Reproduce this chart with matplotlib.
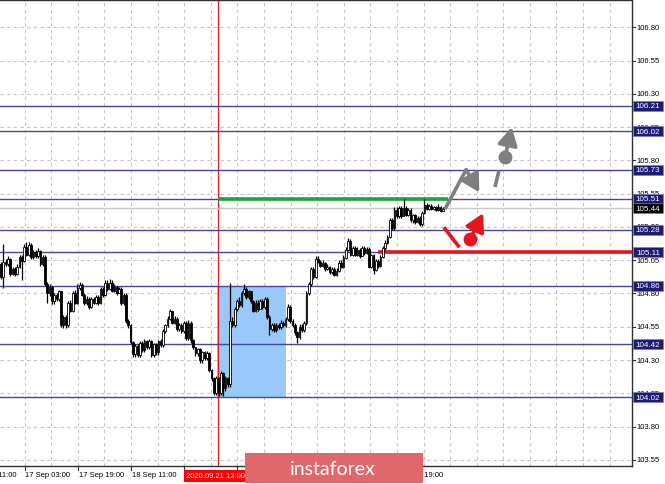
import numpy as np
import matplotlib
matplotlib.use('Agg')
import matplotlib.pyplot as plt
from matplotlib.patches import Rectangle

# --- fonts ---
FONT = ['Liberation Sans', 'DejaVu Sans']
LOGO_FONT = ['Lato', 'DejaVu Sans']

# --- data (USDJPY-like candles, open = previous close) ---
first_open = 105.025
closes = [
    104.927, 105.040, 105.025, 105.062, 104.950, 104.987, 104.950, 105.002, 105.077, 105.047,
    105.152, 105.092, 105.167, 105.077, 105.115, 105.085, 105.122, 105.025, 105.077, 104.875,
    104.800, 104.852, 104.740, 104.785, 104.755, 104.815, 104.567, 104.627, 104.560, 104.725,
    104.672, 104.807, 104.732, 104.845, 104.867, 104.792, 104.725, 104.762, 104.695, 104.755,
    104.732, 104.777, 104.732, 104.837, 104.785, 104.882, 104.837, 104.882, 104.822, 104.852,
    104.807, 104.837, 104.725, 104.792, 104.590, 104.560, 104.432, 104.342, 104.402, 104.335,
    104.425, 104.372, 104.440, 104.395, 104.440, 104.335, 104.417, 104.357, 104.440, 104.410,
    104.515, 104.560, 104.612, 104.665, 104.582, 104.612, 104.537, 104.567, 104.515, 104.575,
    104.462, 104.582, 104.447, 104.395, 104.350, 104.380, 104.297, 104.357, 104.312, 104.350,
    104.222, 104.162, 104.050, 104.162, 104.050, 104.200,
    104.087, 104.162, 104.117, 104.597, 104.567, 104.687, 104.747, 104.717, 104.800, 104.837,
    104.777, 104.815, 104.740, 104.672, 104.732, 104.687, 104.740, 104.695, 104.755, 104.627,
    104.530, 104.567, 104.522, 104.567, 104.545, 104.582, 104.560, 104.605, 104.695, 104.597,
    104.567, 104.507, 104.470, 104.552, 104.522, 104.575, 104.800, 104.875, 104.987, 104.927,
    105.062, 105.040, 105.010, 105.032, 104.987, 105.002, 104.965, 104.987, 104.942, 104.972,
    105.032, 105.002, 105.070, 105.130, 105.197, 105.092, 105.145, 105.092, 105.130, 105.085,
    105.145, 105.107, 105.137, 105.002, 105.092, 104.980, 105.047, 105.010, 105.077, 105.145,
    105.182, 105.227, 105.355, 105.295, 105.430, 105.385, 105.445, 105.385, 105.445, 105.392,
    105.430, 105.355, 105.392, 105.340, 105.370, 105.325, 105.407, 105.467, 105.437, 105.460,
    105.437, 105.452, 105.430, 105.452, 105.422, 105.437,
]
highs = [
    105.04, 105.175, 105.06, 105.08, 105.07, 105.00, 105.00, 105.02, 105.09, 105.09,
    105.17, 105.19, 105.19, 105.18, 105.13, 105.13, 105.14, 105.13, 105.09, 105.09,
    104.89, 104.87, 104.86, 104.80, 104.80, 104.83, 104.82, 104.64, 104.64, 104.74,
    104.75, 104.82, 104.83, 104.87, 104.89, 104.88, 104.80, 104.78, 104.77, 104.77,
    104.77, 104.79, 104.79, 104.85, 104.85, 104.90, 104.90, 104.91, 104.90, 104.87,
    104.86, 104.85, 104.85, 104.80, 104.80, 104.61, 104.57, 104.44, 104.42, 104.42,
    104.44, 104.44, 104.46, 104.45, 104.46, 104.45, 104.43, 104.43, 104.45, 104.46,
    104.53, 104.57, 104.63, 104.68, 104.67, 104.63, 104.62, 104.58, 104.58, 104.59,
    104.59, 104.60, 104.59, 104.46, 104.40, 104.39, 104.39, 104.37, 104.37, 104.37,
    104.36, 104.23, 104.17, 104.18, 104.17, 104.22,
    104.21, 104.18, 104.17, 104.88, 104.62, 104.70, 104.76, 104.77, 104.82, 104.87,
    104.85, 104.83, 104.82, 104.75, 104.75, 104.75, 104.76, 104.76, 104.77, 104.77,
    104.64, 104.58, 104.58, 104.58, 104.58, 104.60, 104.59, 104.62, 104.72, 104.71,
    104.61, 104.58, 104.52, 104.57, 104.57, 104.59, 104.82, 104.89, 105.00, 105.00,
    105.08, 105.08, 105.05, 105.05, 105.04, 105.02, 105.01, 105.00, 105.00, 104.99,
    105.05, 105.05, 105.09, 105.15, 105.22, 105.21, 105.16, 105.16, 105.15, 105.14,
    105.16, 105.16, 105.15, 105.15, 105.10, 105.10, 105.06, 105.06, 105.09, 105.16,
    105.20, 105.24, 105.37, 105.37, 105.45, 105.45, 105.46, 105.46, 105.51, 105.46,
    105.44, 105.44, 105.40, 105.40, 105.38, 105.38, 105.42, 105.51, 105.48, 105.47,
    105.47, 105.46, 105.46, 105.47, 105.46, 105.45,
]
lows = [
    104.91, 104.84, 105.01, 105.01, 104.93, 104.94, 104.93, 104.94, 104.99, 104.90,
    105.04, 105.08, 105.08, 105.06, 105.06, 105.07, 105.07, 105.01, 105.01, 104.86,
    104.73, 104.78, 104.72, 104.72, 104.74, 104.74, 104.55, 104.54, 104.54, 104.55,
    104.66, 104.66, 104.72, 104.72, 104.83, 104.78, 104.71, 104.71, 104.68, 104.69,
    104.72, 104.72, 104.71, 104.72, 104.77, 104.78, 104.82, 104.83, 104.81, 104.81,
    104.79, 104.80, 104.71, 104.71, 104.58, 104.54, 104.42, 104.32, 104.32, 104.32,
    104.32, 104.36, 104.36, 104.38, 104.38, 104.32, 104.32, 104.34, 104.34, 104.40,
    104.40, 104.50, 104.55, 104.60, 104.57, 104.57, 104.52, 104.52, 104.50, 104.50,
    104.45, 104.45, 104.43, 104.38, 104.33, 104.33, 104.28, 104.28, 104.30, 104.30,
    104.21, 104.14, 104.04, 104.04, 104.03, 104.04,
    104.03, 104.07, 104.10, 104.10, 104.55, 104.55, 104.67, 104.70, 104.70, 104.79,
    104.76, 104.76, 104.73, 104.66, 104.66, 104.67, 104.68, 104.68, 104.68, 104.61,
    104.49, 104.52, 104.51, 104.51, 104.53, 104.53, 104.55, 104.55, 104.59, 104.58,
    104.55, 104.49, 104.43, 104.46, 104.51, 104.51, 104.56, 104.79, 104.86, 104.91,
    104.92, 105.03, 105.00, 105.00, 104.97, 104.98, 104.95, 104.95, 104.93, 104.93,
    104.96, 104.99, 104.99, 105.06, 105.12, 105.08, 105.08, 105.08, 105.08, 105.07,
    105.08, 105.09, 105.10, 104.99, 104.99, 104.95, 104.97, 104.99, 105.00, 105.07,
    105.13, 105.17, 105.22, 105.28, 105.28, 105.37, 105.37, 105.37, 105.38, 105.38,
    105.38, 105.34, 105.33, 105.32, 105.33, 105.31, 105.31, 105.40, 105.43, 105.43,
    105.43, 105.43, 105.42, 105.42, 105.41, 105.42,
]

levels = [106.21, 106.02, 105.73, 105.51, 105.28, 105.11, 104.86, 104.42, 104.02]
level_labels = ['106.21', '106.02', '105.73', '105.51', '105.28', '105.11', '104.86', '104.42', '104.02']
current_price = 105.44
grid_prices = [103.55, 103.80, 104.05, 104.30, 104.55, 104.80, 105.05, 105.30,
               105.55, 105.80, 106.05, 106.30, 106.55, 106.80]
# time axis labels (bar index); ones hidden under the logo/cursor label are left out
time_bars = [-12.84, 10.16, 33.15, 56.14, 171.1]
time_labels = ['16 Sep 11:00', '17 Sep 03:00', '17 Sep 19:00', '18 Sep 11:00', '23 Sep 19:00']
cursor_label = '2020.09.21 13:00'

# zone / signal annotations (bar index, price)
zone_bars = (93.3, 123.2)
zone_prices = (104.02, 104.86)
cursor_bar = 93.8
green_bars = (93.8, 193.2)
green_price = 105.51
red_bar_start = 162.9
red_price = 105.11
up_path_bars = [191.9, 201.0, 206.7]
up_path_prices = [105.435, 105.73, 105.56]
dash_bars = [213.5, 215.2]
dash_prices = [105.60, 105.723]
dot_gray = (217.8, 105.823)
tip_gray = (220.7, 106.05)
red_path_bars = [191.4, 198.1]
red_path_prices = [105.297, 105.147]
dot_red = (202.7, 105.209)
tip_red = (208.4, 105.403)

# --- styles ---
W, H = 665, 485
BAR_PX = 2.314
AX_RIGHT = 631.5
PX_PRICE = 1 / 133.1
NAVY = '#4646a0'
BOXC = '#1c1c76'
GRAY = '#7f7f7f'
RED = '#e8131e'
GREEN = '#1ea23e'
FS = 5.5
FS_BOX = 5.8

fig = plt.figure(figsize=(W / 100, H / 100), dpi=100)
ax = fig.add_axes([0, 18 / H, AX_RIGHT / W, 466 / H])
ax.set_xlim(-1 / BAR_PX, (AX_RIGHT - 1) / BAR_PX)
ax.set_ylim(103.504, 107.005)

# grid
grid_bars = 10.16 + 11.495 * np.arange(0, 24)
for gx in grid_bars:
    ax.axvline(gx, color='#c4c4c4', lw=0.8, ls=(0, (3, 3)), zorder=0)
for gp in grid_prices:
    ax.axhline(gp, color='#c4c4c4', lw=0.8, ls=(0, (3, 3)), zorder=0)

# blue zone and cursor line
ax.add_patch(Rectangle((zone_bars[0], zone_prices[0]), zone_bars[1] - zone_bars[0],
                       zone_prices[1] - zone_prices[0], facecolor='#99c8fb', edgecolor='none', zorder=1))
ax.axvline(cursor_bar, color='#e21a1a', lw=0.9, zorder=2)

# level lines
for lv in levels:
    ax.axhline(lv, color=NAVY, lw=1.0, zorder=2)
ax.axhline(current_price, color='#c8c8c8', lw=1.0, zorder=2)
ax.plot(green_bars, [green_price, green_price], color=GREEN, lw=2.6, zorder=3, solid_capstyle='butt')
ax.plot([red_bar_start, ax.get_xlim()[1]], [red_price, red_price], color=RED, lw=2.6, zorder=3,
        solid_capstyle='butt')

# candles
closes = np.array(closes)
opens = np.concatenate([[first_open], closes[:-1]])
highs = np.array(highs)
lows = np.array(lows)
idx = np.arange(len(closes))
ax.vlines(idx, lows, highs, color='black', lw=0.9, zorder=4)
bull = closes >= opens
bottoms = np.minimum(opens, closes)
heights = np.maximum(np.abs(closes - opens), 0.004)
ax.bar(idx[bull], heights[bull], bottom=bottoms[bull], width=0.72, facecolor='white',
       edgecolor='black', linewidth=0.6, zorder=5)
ax.bar(idx[~bull], heights[~bull], bottom=bottoms[~bull], width=0.72, facecolor='black',
       edgecolor='black', linewidth=0.6, zorder=5)

# forecast arrows (gray)
head = '-|>,head_length=0.9,head_width=0.5'
ax.plot(up_path_bars[:2], up_path_prices[:2], color=GRAY, lw=2.6, zorder=6, solid_capstyle='butt')
ax.annotate('', xy=(up_path_bars[2], up_path_prices[2]), xytext=(up_path_bars[1], up_path_prices[1]),
            arrowprops=dict(arrowstyle=head, color=GRAY, lw=2.6, shrinkA=0, shrinkB=0,
                            mutation_scale=12), zorder=6)
ax.plot(dash_bars, dash_prices, color=GRAY, lw=2.6, zorder=6, solid_capstyle='butt')
ax.plot(*dot_gray, marker='o', ms=9, color=GRAY, zorder=6)
ax.annotate('', xy=tip_gray, xytext=dot_gray,
            arrowprops=dict(arrowstyle=head, color=GRAY, lw=2.6, shrinkA=3, shrinkB=0,
                            mutation_scale=12), zorder=6)

# forecast arrows (red)
ax.plot(red_path_bars, red_path_prices, color=RED, lw=2.6, zorder=6, solid_capstyle='butt')
ax.plot(*dot_red, marker='o', ms=9, color=RED, zorder=6)
ax.annotate('', xy=tip_red, xytext=dot_red,
            arrowprops=dict(arrowstyle=head, color=RED, lw=2.6, shrinkA=3, shrinkB=0,
                            mutation_scale=12), zorder=6)

# frame
for side in ['top', 'right', 'bottom']:
    ax.spines[side].set_color('#303030')
    ax.spines[side].set_linewidth(1.0)
ax.spines['left'].set_visible(False)
ax.set_yticks([])
ax.set_xticks([])

# right price scale
ytr = ax.get_yaxis_transform()
for gp in grid_prices:
    ax.plot([1.0, 1.0 + 3.5 / AX_RIGHT], [gp, gp], transform=ytr, color='#303030', lw=0.8, clip_on=False)
    ax.text(1.0 + 4.5 / AX_RIGHT, gp, f'{gp:.2f}', transform=ytr, ha='left', va='center',
            fontsize=FS, family=FONT, color='black')


def price_box(price, label, color):
    ax.add_patch(Rectangle((1.0 + 1.3 / AX_RIGHT, price - 5 * PX_PRICE), 30.5 / AX_RIGHT,
                           10 * PX_PRICE, transform=ytr, facecolor=color, edgecolor='#8080b8',
                           lw=0.5, clip_on=False, zorder=8))
    ax.text(1.0 + 16.5 / AX_RIGHT, price, label, transform=ytr, ha='center', va='center',
            fontsize=FS_BOX, family=FONT, color='white', zorder=9)


for lv, lab in zip(levels, level_labels):
    price_box(lv, lab, BOXC)
price_box(current_price, f'{current_price:.2f}', 'black')

# time scale
xtr = ax.get_xaxis_transform()
for lb in 10.16 + 23.0 * np.arange(-1, 8):
    ax.plot([lb, lb], [0, -3.5 / 466], transform=xtr, color='#303030', lw=0.8, clip_on=False)
for lb, lab in zip(time_bars, time_labels):
    ax.text(lb + 0.4, -8.5 / 466, lab, transform=xtr, ha='left', va='center', fontsize=FS,
            family=FONT, color='black', zorder=1)

# cursor time label
fig.add_artist(Rectangle((184 / W, (H - 483) / H), 68 / W, 12 / H, transform=fig.transFigure,
                         facecolor='#ff0000', edgecolor='none', zorder=9))
fig.text(186 / W, (H - 477) / H, cursor_label, ha='left', va='center', fontsize=FS, family=FONT,
         color='white', zorder=9.5)

# watermark logo
fig.add_artist(Rectangle((245 / W, 1 / H), 178 / W, 30 / H, transform=fig.transFigure,
                         facecolor='#e0686b', edgecolor='none', zorder=10))
fig.text(333 / W, (H - 470) / H, 'instaforex', ha='center', va='center', fontsize=14,
         family=LOGO_FONT, color='white', zorder=11)

fig.savefig('out.png', dpi=100)
